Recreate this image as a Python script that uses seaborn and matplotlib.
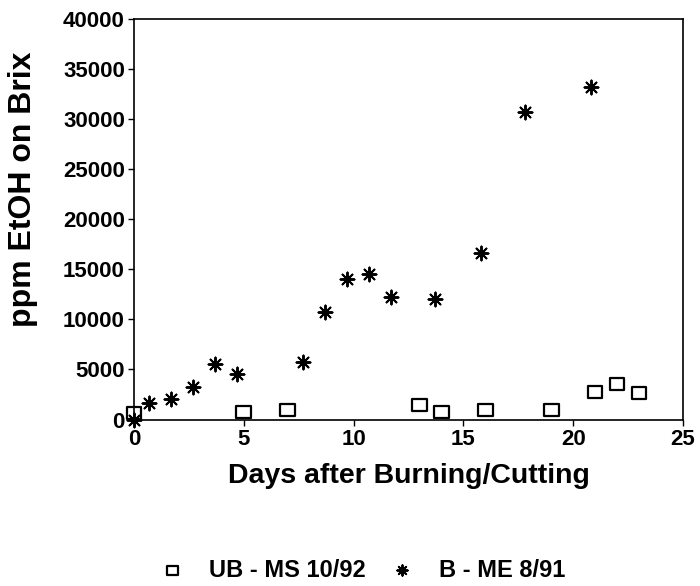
import matplotlib
matplotlib.use("Agg")
import matplotlib.pyplot as plt
import seaborn as sns
import pandas as pd
from matplotlib.path import Path

ub_days = [0, 5, 7, 13, 14, 16, 19, 21, 22, 23]
ub_ppm = [680, 780, 950, 1420, 750, 950, 950, 2780, 3520, 2680]

b_days = [0, 0.7, 1.7, 2.7, 3.7, 4.7, 7.7, 8.7, 9.7, 10.7, 11.7, 13.7, 15.8, 17.8, 20.8]
b_ppm = [0, 1600, 2000, 3200, 5500, 4500, 5700, 10700, 14000, 14500, 12200, 12000, 16600, 30700, 33200]

series_ub = "UB - MS 10/92"
series_b = "B - ME 8/91"

df = pd.concat([
    pd.DataFrame({"day": ub_days, "ppm": ub_ppm, "series": series_ub}),
    pd.DataFrame({"day": b_days, "ppm": b_ppm, "series": series_b}),
])

sns.set_style("white")
plt.rcParams['font.family'] = ['Liberation Sans', 'DejaVu Sans']
plt.rcParams['font.weight'] = 'bold'
plt.rcParams['text.color'] = 'black'
plt.rcParams['axes.labelcolor'] = 'black'
plt.rcParams['xtick.color'] = 'black'
plt.rcParams['ytick.color'] = 'black'

box = Path([(-1.25, -1), (1.25, -1), (1.25, 1), (-1.25, 1), (-1.25, -1)],
           [Path.MOVETO, Path.LINETO, Path.LINETO, Path.LINETO, Path.CLOSEPOLY])

fig = plt.figure(figsize=(7, 5.86), dpi=100)
ax = fig.add_axes([0.1914, 0.2841, 0.9757 - 0.1914, 0.9676 - 0.2841])

sns.scatterplot(data=df[df.series == series_ub], x="day", y="ppm", ax=ax,
                marker=box, s=110, facecolor="none", edgecolor="black",
                linewidth=1.6, label=series_ub, zorder=3, clip_on=False)
sns.scatterplot(data=df[df.series == series_b], x="day", y="ppm", ax=ax,
                marker=(8, 2, 0), s=100, color="black",
                linewidth=1.4, label=series_b, zorder=4, clip_on=False)

ax.set_xlim(0, 25)
ax.set_ylim(0, 40000)
ax.set_xticks([0, 5, 10, 15, 20, 25])
ax.set_yticks(range(0, 40001, 5000))
ax.tick_params(axis='both', which='major', direction='out', length=4.5, width=1,
               labelsize=16, color='black', labelcolor='black', pad=2,
               left=True, bottom=True)
for lab in ax.get_xticklabels() + ax.get_yticklabels():
    lab.set_fontweight('bold')
for sp in ax.spines.values():
    sp.set_visible(True)
    sp.set_color('black')
    sp.set_linewidth(1.2)
ax.set_xlabel("Days after Burning/Cutting", fontsize=20.5, fontweight='bold', labelpad=10)
ax.set_ylabel("ppm EtOH on Brix", fontsize=23, fontweight='bold')
ax.yaxis.set_label_coords(-0.175, 0.575)

ax.legend(loc='center', bbox_to_anchor=(0.514, 0.027), bbox_transform=fig.transFigure,
          ncol=2, frameon=False, prop={'weight': 'bold', 'size': 17},
          handletextpad=0.8, columnspacing=0.8, markerscale=0.75, handlelength=1.5)

fig.savefig("out.png", dpi=100)
